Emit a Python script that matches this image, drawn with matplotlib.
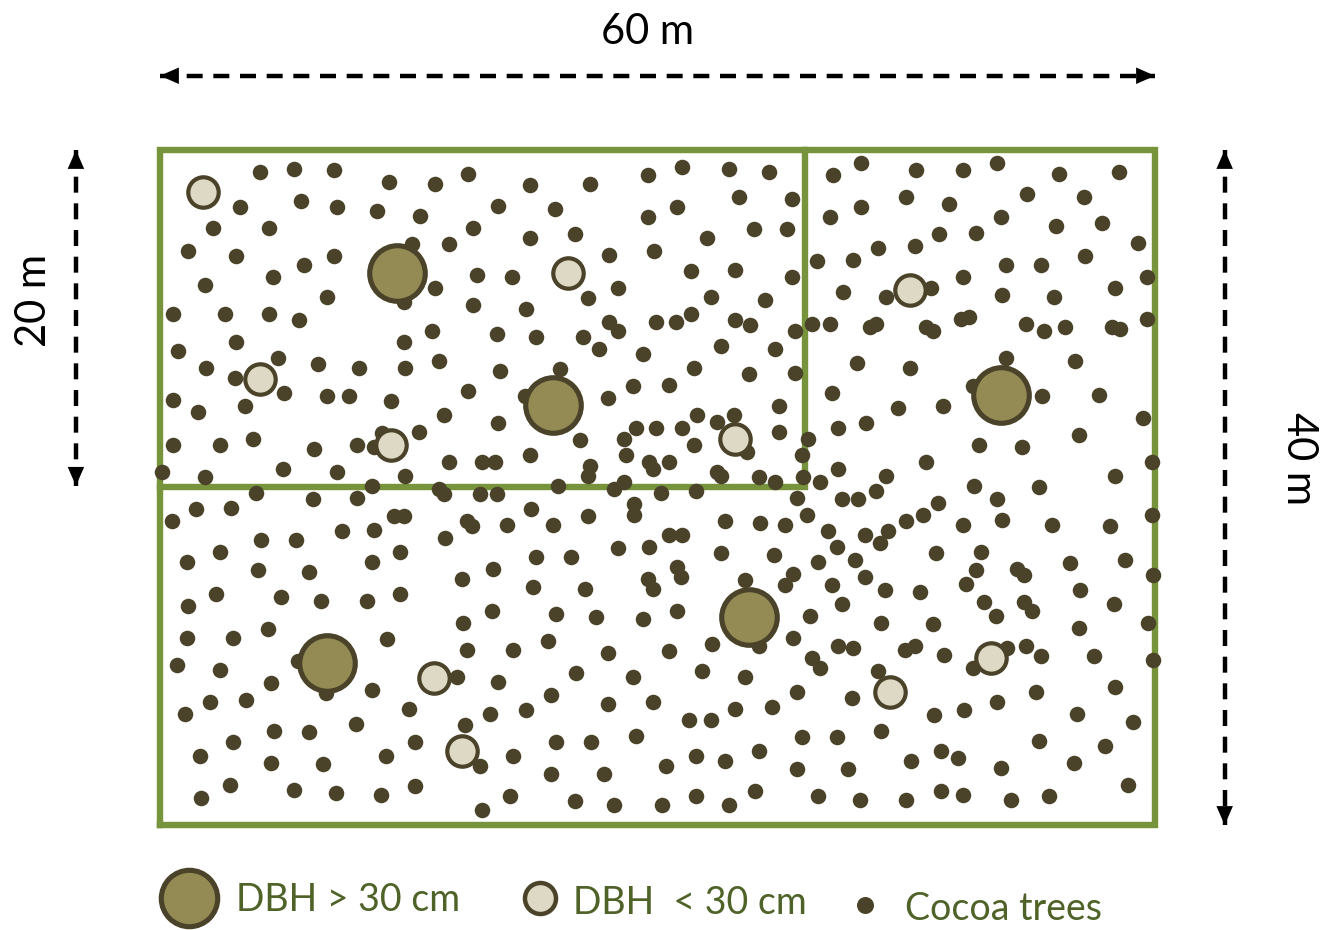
import numpy as np
import matplotlib.pyplot as plt

plt.rcParams['font.family'] = ['Lato', 'DejaVu Sans']

# plot size (m) and the 20 x ~39 m sub-plot in the north-west corner
plot_w, plot_h = 60, 40
sub_x = [0, 38.9, 38.9]
sub_y = [20, 20, 40]

# tree positions in metres (x from west edge, y from south edge)
big_trees = [(14.3, 32.7), (23.7, 24.9), (50.7, 25.5), (10.1, 9.6), (35.5, 12.3)]
small_trees = [(2.6, 37.5), (24.6, 32.7), (6.0, 26.4), (13.9, 22.5), (34.7, 22.9),
               (45.2, 31.7), (16.5, 8.7), (18.2, 4.4), (44.0, 7.9), (50.1, 9.9)]
cocoa_trees = [
    (6.0, 38.7), (8.1, 38.9), (10.5, 38.8), (13.8, 38.1), (16.6, 38.0), (18.6, 38.6),
    (4.8, 36.6), (8.5, 37.0), (10.7, 36.6), (13.1, 36.4), (15.7, 36.1), (18.9, 35.4),
    (3.2, 35.4), (6.6, 35.4), (1.7, 34.0), (4.6, 33.7), (10.5, 33.7), (8.7, 33.2),
    (17.4, 34.4), (15.2, 34.4), (19.1, 32.6), (6.8, 32.5), (2.7, 32.0), (10.1, 31.3),
    (16.6, 31.8), (18.9, 30.8), (14.7, 31.0), (0.8, 30.3), (3.9, 30.3), (6.6, 30.3),
    (8.4, 29.9), (16.4, 29.3), (14.7, 28.6), (4.6, 28.6), (1.1, 28.1), (7.1, 27.7),
    (9.5, 27.3), (12.0, 27.1), (14.8, 27.1), (16.8, 27.5), (2.8, 27.1), (4.5, 26.5),
    (0.8, 25.2), (2.3, 24.5), (5.1, 24.8), (7.5, 25.6), (10.1, 25.4), (11.4, 25.4),
    (13.9, 25.1), (18.6, 25.7), (17.1, 24.3), (0.8, 22.5), (3.6, 22.5), (5.6, 22.9),
    (9.3, 22.3), (11.9, 22.5), (13.4, 23.2), (12.9, 22.4), (15.6, 23.3), (17.4, 21.5),
    (19.4, 21.5), (0.1, 20.9), (2.7, 20.6), (7.4, 21.1), (10.7, 20.9), (14.8, 20.7),
    (5.8, 19.7), (9.2, 19.3), (11.9, 19.4), (12.8, 20.1), (16.8, 19.9), (17.1, 19.6),
    (19.3, 19.6), (2.2, 18.7), (4.3, 18.8), (0.7, 18.0), (14.1, 18.3), (14.7, 18.3),
    (18.5, 18.0), (18.8, 17.7), (11.0, 17.4), (12.9, 17.5), (6.1, 16.9), (8.2, 16.9),
    (17.2, 17.0), (3.6, 16.2), (1.6, 15.6), (5.9, 15.1), (9.0, 15.0), (12.8, 15.6),
    (14.5, 16.2), (18.2, 14.6), (3.4, 13.7), (7.3, 13.5), (9.7, 13.3), (12.5, 13.3),
    (14.5, 13.7), (1.7, 13.0), (1.6, 11.1), (4.4, 11.1), (6.5, 11.6), (13.7, 11.0),
    (18.3, 12.0), (18.5, 10.4), (1.0, 9.5), (3.6, 9.2), (6.7, 8.4), (8.3, 9.7),
    (10.0, 7.8), (12.8, 8.0), (17.9, 8.8), (3.0, 7.3), (5.2, 7.4), (1.5, 6.6),
    (15.0, 6.9), (6.9, 5.6), (9.0, 5.5), (11.8, 6.0), (18.4, 5.9), (4.4, 4.9),
    (2.4, 4.1), (6.7, 3.7), (9.8, 3.6), (13.6, 4.1), (15.4, 4.9), (19.3, 3.5),
    (4.2, 2.4), (2.5, 1.6), (8.1, 2.1), (10.6, 1.9), (13.3, 1.8), (15.4, 2.3),
    (19.4, 0.9),
    (22.3, 37.9), (25.9, 38.0), (29.4, 38.5), (31.5, 39.0), (34.3, 38.9), (36.7, 38.7),
    (20.4, 36.7), (23.8, 36.5), (29.4, 36.0), (31.2, 36.6), (34.9, 37.2), (38.1, 37.1),
    (22.3, 34.8), (25.0, 35.0), (33.0, 34.8), (35.8, 35.3), (37.8, 35.3), (27.1, 33.8),
    (29.8, 34.0), (21.2, 32.5), (32.0, 32.8), (34.7, 32.9), (38.1, 32.5), (39.6, 33.4),
    (27.6, 31.8), (25.8, 31.2), (22.1, 30.6), (33.2, 31.3), (36.5, 31.1), (32.0, 30.3),
    (29.9, 29.8), (31.1, 29.8), (27.1, 29.8), (27.6, 29.3), (34.7, 29.9), (35.6, 29.6),
    (38.3, 29.3), (39.3, 29.7), (20.3, 29.1), (22.7, 28.9), (25.5, 28.9), (26.5, 28.2),
    (29.1, 27.9), (33.8, 28.4), (37.1, 28.2), (20.5, 26.9), (24.1, 27.0), (32.2, 27.1),
    (35.5, 26.7), (38.3, 26.8),
    (22.0, 25.4), (27.0, 25.3), (28.5, 26.0), (30.7, 26.1), (20.4, 23.8), (25.3, 22.8),
    (22.3, 21.9), (32.4, 24.3), (33.6, 23.9), (34.6, 24.3), (35.4, 22.1), (28.7, 23.5),
    (29.9, 23.5), (31.5, 23.5), (28.0, 22.9), (32.2, 22.5), (37.3, 24.8), (37.3, 23.3),
    (39.1, 22.9), (38.7, 21.9), (20.2, 21.5), (28.1, 21.9), (29.5, 21.5), (29.7, 21.1),
    (30.7, 21.5), (25.9, 21.3), (25.8, 20.7), (33.6, 20.9), (33.8, 20.7), (36.1, 20.6),
    (37.1, 20.3), (38.8, 20.6), (39.8, 20.3), (24.0, 20.1), (27.4, 19.9), (28.0, 20.3),
    (30.2, 19.7), (32.3, 19.8), (20.3, 19.6), (22.4, 18.7), (25.8, 18.3), (20.9, 17.8),
    (23.7, 17.8), (28.6, 19.0), (28.6, 18.4), (38.4, 19.4), (39.0, 18.4), (34.1, 18.0),
    (36.2, 17.9), (37.7, 17.8), (30.7, 17.2), (31.5, 17.2), (27.6, 16.4), (29.5, 16.5),
    (22.7, 15.9), (24.8, 15.9), (20.1, 15.2), (33.8, 16.1), (37.0, 16.0), (39.7, 15.6),
    (31.2, 15.3), (31.4, 14.7), (29.4, 14.6), (29.7, 14.0), (22.5, 14.1), (25.6, 14.0),
    (35.3, 14.5), (38.2, 14.9), (37.7, 14.2),
    (20.0, 12.7), (23.9, 12.5), (26.3, 12.3), (29.1, 12.2), (31.2, 12.7), (39.2, 12.4),
    (21.3, 10.4), (23.4, 10.9), (27.0, 10.2), (30.7, 10.3), (33.3, 10.7), (36.1, 10.6),
    (38.2, 11.1), (39.3, 9.9), (39.8, 9.3), (20.4, 8.5), (25.1, 9.0), (28.5, 8.8),
    (32.7, 9.1), (35.3, 8.8), (38.4, 7.9), (19.9, 6.6), (22.1, 6.8), (23.6, 7.7),
    (27.0, 7.2), (29.7, 7.3), (31.9, 6.2), (33.2, 6.2), (34.7, 6.9), (36.9, 7.0),
    (23.9, 4.9), (26.0, 4.9), (28.7, 5.3), (38.7, 5.2), (21.3, 4.1), (23.6, 3.0),
    (26.8, 3.0), (30.5, 3.5), (32.3, 4.1), (34.1, 3.8), (36.1, 4.4), (38.4, 3.3),
    (21.1, 1.7), (25.0, 1.4), (27.4, 1.2), (30.3, 1.2), (32.3, 1.7), (34.3, 1.2),
    (35.9, 2.0), (39.7, 1.7),
    (40.6, 38.5), (42.3, 39.2), (45.6, 38.8), (48.4, 38.8), (50.5, 39.2), (54.2, 38.6),
    (57.8, 38.7), (40.4, 36.0), (42.3, 36.6), (45.0, 37.2), (47.6, 36.8), (52.3, 37.4),
    (55.7, 37.2), (50.7, 36.0), (54.0, 35.5), (56.8, 35.7), (47.0, 35.0), (49.2, 35.1),
    (43.3, 34.2), (45.5, 34.3), (59.0, 34.5), (41.8, 33.5), (51.0, 33.2), (53.1, 33.2),
    (55.8, 33.7), (43.8, 31.3), (46.5, 31.8), (41.2, 31.6), (48.4, 32.5), (50.8, 31.4),
    (53.9, 31.3), (57.6, 31.8), (59.5, 32.5), (40.4, 29.7), (42.8, 29.5), (43.2, 29.7),
    (46.2, 29.5), (46.6, 29.3), (48.3, 30.0), (48.8, 30.1), (52.2, 29.7), (53.3, 29.3),
    (54.6, 29.5), (57.4, 29.5), (57.9, 29.4), (59.5, 30.0), (42.0, 27.4), (45.2, 27.1),
    (51.0, 27.7), (55.2, 27.5),
    (49.0, 26.0), (40.5, 25.6), (44.5, 24.7), (47.2, 24.8), (53.2, 25.4), (56.6, 25.5),
    (59.3, 24.1), (40.9, 23.5), (42.6, 23.8), (49.4, 22.5), (52.0, 22.4), (55.4, 23.1),
    (59.8, 21.5), (46.2, 21.5), (40.9, 21.1), (43.8, 20.7), (43.2, 19.8), (57.6, 20.7),
    (49.1, 20.1), (53.0, 20.0), (50.5, 19.3), (46.9, 19.1), (41.1, 19.3), (42.1, 19.3),
    (46.0, 18.4), (45.0, 18.0), (43.9, 17.4), (40.3, 17.4), (42.5, 17.2), (43.4, 16.7),
    (40.8, 16.5), (48.4, 17.8), (50.8, 18.1), (53.8, 17.8), (57.3, 17.7), (59.8, 18.4),
    (46.8, 16.1), (49.5, 16.2), (41.9, 15.7), (54.9, 15.5), (58.2, 15.7), (49.2, 15.1),
    (51.7, 15.2), (52.1, 14.8), (42.5, 14.7), (40.5, 14.2), (48.6, 14.3), (43.7, 13.9),
    (45.8, 13.8), (55.5, 13.9), (59.9, 14.8),
    (41.1, 13.1), (49.7, 13.2), (52.1, 13.2), (52.6, 12.7), (57.5, 13.1), (43.5, 12.0),
    (46.6, 11.9), (50.4, 12.4), (55.4, 11.7), (59.6, 12.0), (40.9, 10.6), (41.8, 10.5),
    (44.9, 10.4), (45.5, 10.6), (47.3, 10.1), (51.1, 10.5), (49.0, 9.3), (52.2, 10.6),
    (53.1, 10.0), (56.3, 10.0), (59.9, 9.8), (43.3, 9.1), (41.7, 7.5), (46.7, 6.5),
    (48.5, 6.8), (50.5, 7.3), (52.8, 7.9), (57.6, 8.2), (55.3, 6.6), (58.7, 6.1),
    (43.5, 5.6), (40.8, 5.2), (53.0, 5.0), (57.0, 4.7), (47.1, 4.4), (48.1, 4.0),
    (45.3, 3.8), (41.5, 3.3), (50.7, 3.4), (55.1, 3.7), (42.2, 1.5), (45.0, 1.5),
    (47.1, 2.0), (48.4, 1.8), (51.3, 1.5), (53.6, 1.7), (58.4, 2.4),
]

legend_labels = ['DBH > 30 cm', 'DBH  < 30 cm', 'Cocoa trees']

green = '#77933c'
dark = '#4a4329'
big_fill = '#948b54'
small_fill = '#ddd9c4'
label_green = '#4f6228'

fig = plt.figure(figsize=(13.21, 9.30), dpi=100)
ax = fig.add_axes([160 / 1321, 105 / 930, 995 / 1321, 675 / 930])
ax.set_xlim(0, plot_w)
ax.set_ylim(0, plot_h)
ax.axis('off')

# plot borders
ax.plot([0, plot_w, plot_w, 0, 0], [0, 0, plot_h, plot_h, 0], color=green,
        lw=4.6, solid_joinstyle='miter', clip_on=False, zorder=2)
ax.plot(sub_x, sub_y, color=green, lw=4.6, solid_joinstyle='miter',
        clip_on=False, zorder=2)

# trees
cx, cy = np.array(cocoa_trees).T
ax.scatter(cx, cy, s=125, c=dark, lw=0, zorder=3, clip_on=False)
bx, by = np.array(big_trees).T
ax.scatter(bx, by, s=1600, c=big_fill, edgecolors=dark, linewidths=3.7,
           zorder=4, clip_on=False)
sx, sy = np.array(small_trees).T
ax.scatter(sx, sy, s=480, c=small_fill, edgecolors=dark, linewidths=3.0,
           zorder=4, clip_on=False)


def dim_arrow(p0, p1):
    ax.plot([p0[0], p1[0]], [p0[1], p1[1]], color='black', lw=3.2,
            ls=(0, (3.6, 2.4)), clip_on=False)
    for tip, tail in ((p0, p1), (p1, p0)):
        d = np.array(tail) - np.array(tip)
        d = d / np.hypot(*d)
        ax.annotate('', xy=tip, xytext=tuple(np.array(tip) + 1.6 * d),
                    arrowprops=dict(arrowstyle='-|>,head_length=0.8,head_width=0.35',
                                    color='black', lw=0, shrinkA=0, shrinkB=0,
                                    mutation_scale=17),
                    annotation_clip=False)


dim_arrow((0, 44.4), (plot_w, 44.4))
dim_arrow((-5.07, plot_h), (-5.07, 20.1))
dim_arrow((64.2, plot_h), (64.2, 0))

ax.text(29.4, 46.3, '60 m', ha='center', va='baseline', fontsize=30, clip_on=False)
ax.text(-7.6, 31.1, '20 m', ha='center', va='center', rotation=90, fontsize=30)
ax.text(68.7, 21.7, '40 m', ha='center', va='center', rotation=270, fontsize=30)

# legend row
ax.scatter([1.75], [-4.33], s=1650, c=big_fill, edgecolors=dark, linewidths=3.7,
           clip_on=False)
ax.scatter([22.9], [-4.33], s=500, c=small_fill, edgecolors=dark, linewidths=3.2,
           clip_on=False)
ax.scatter([42.5], [-4.74], s=150, c=dark, lw=0, clip_on=False)
ax.text(4.6, -5.1, legend_labels[0], color=label_green, fontsize=27, va='baseline')
ax.text(24.9, -5.25, legend_labels[1], color=label_green, fontsize=27, va='baseline')
ax.text(44.9, -5.65, legend_labels[2], color=label_green, fontsize=27, va='baseline')

fig.savefig('out.png', dpi=100)
